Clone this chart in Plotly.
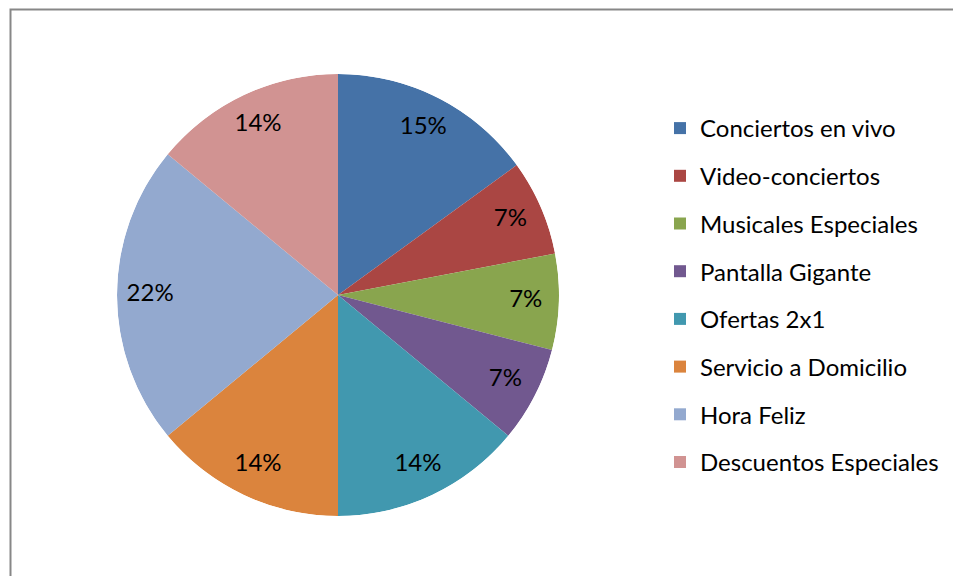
import plotly.graph_objects as go

# Share of each promotion type (percent)
categories = [
    "Conciertos en vivo",
    "Video-conciertos",
    "Musicales Especiales",
    "Pantalla Gigante",
    "Ofertas 2x1",
    "Servicio a Domicilio",
    "Hora Feliz",
    "Descuentos Especiales",
]
percentages = [15, 7, 7, 7, 14, 14, 22, 14]
colors = ["#4572A7", "#AA4643", "#89A54E", "#71588F",
          "#4198AF", "#DB843D", "#93A9CF", "#D19392"]

FONT = "Lato, 'Open Sans', sans-serif"
W, H = 953, 576

# Angular extent of each wedge, going clockwise from 12 o'clock
total = sum(percentages)
spans = [360.0 * v / total for v in percentages]
mids = []
acc = 0.0
for s in spans:
    mids.append(acc + s / 2)
    acc += s

fig = go.Figure()

# One wedge per category so each gets its own legend row
for name, val, col, mid, span in zip(categories, percentages, colors, mids, spans):
    fig.add_trace(go.Barpolar(
        r=[1], theta=[mid], width=[span], base=0,
        name=name, legendgroup=name,
        marker=dict(color=col, line=dict(width=0)),
        hovertemplate=f"{name}: {val}%<extra></extra>",
    ))

# Percentage labels inside the wedges
fig.add_trace(go.Scatterpolar(
    r=[0.85] * len(percentages), theta=mids,
    mode="text", text=[f"{v}%" for v in percentages],
    textfont=dict(family=FONT, size=24, color="#000000"),
    showlegend=False, hoverinfo="skip",
))

fig.update_layout(
    width=W, height=H,
    margin=dict(l=0, r=0, t=0, b=0),
    paper_bgcolor="white",
    polar=dict(
        domain=dict(x=[117 / W, 559 / W], y=[(H - 516) / H, (H - 74) / H]),
        bgcolor="rgba(0,0,0,0)",
        bargap=0,
        hole=0,
        angularaxis=dict(rotation=90, direction="clockwise", visible=False,
                         showgrid=False, showline=False),
        radialaxis=dict(range=[0, 1], visible=False, showgrid=False,
                        showline=False),
    ),
    legend=dict(
        x=660 / W, xanchor="left",
        y=1 - 106 / H, yanchor="top",
        font=dict(family=FONT, size=24, color="#000000"),
        tracegroupgap=13.5,
        bgcolor="rgba(0,0,0,0)",
    ),
    shapes=[dict(
        type="rect", xref="paper", yref="paper",
        x0=10.5 / W, x1=1.02, y0=-0.02, y1=1 - 9.5 / H,
        line=dict(color="#878787", width=2),
        fillcolor="rgba(0,0,0,0)", layer="below",
    )],
)

fig.write_html("out.html")
